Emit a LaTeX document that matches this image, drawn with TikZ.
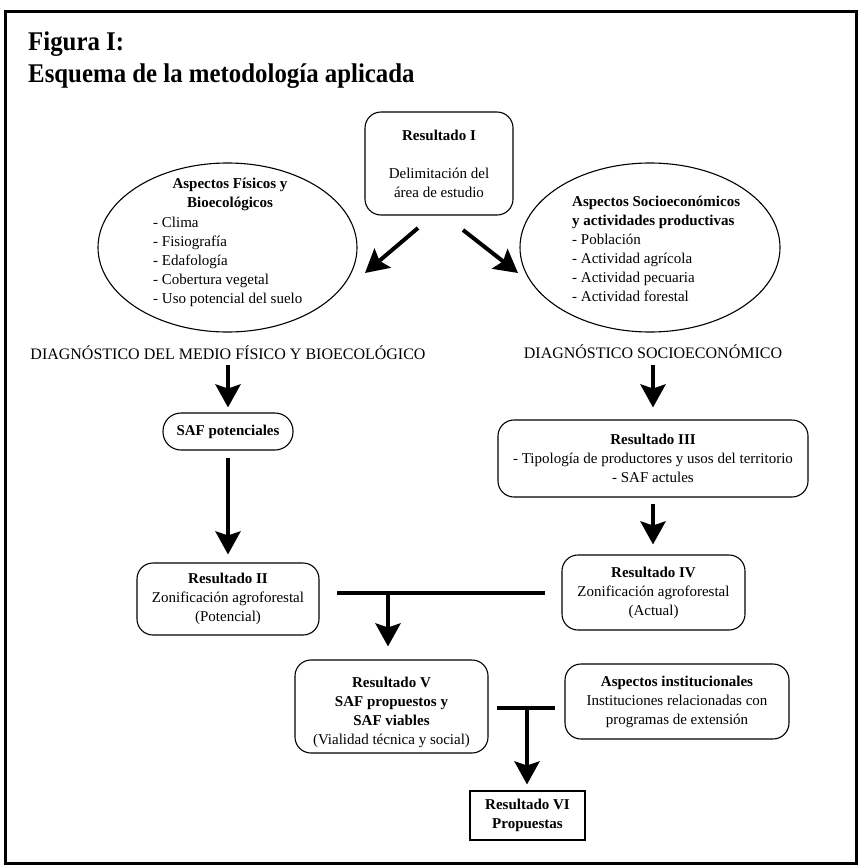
\documentclass[tikz,border=0pt]{standalone}
\usepackage{fontspec}
\setmainfont{Liberation Serif}
\newfontfamily\titlefont{Liberation Serif}[FakeStretch=0.92]
\usetikzlibrary{arrows.meta,shapes.geometric,calc}
\begin{document}
\begin{tikzpicture}[x=1pt,y=1pt,
  body/.style={font=\fontsize{15}{19}\selectfont, align=center, inner sep=0pt},
  bodyb/.style={font=\bfseries\fontsize{15}{19}\selectfont, align=center, inner sep=0pt},
  rbox/.style={draw, line width=1.1pt, rounded corners=16pt, inner sep=0pt, body},
  oval/.style={draw, ellipse, line width=1.1pt, inner sep=0pt},
  arr/.style={line width=4pt, -{Stealth[length=23pt,width=25pt,inset=4pt]}},
  bar/.style={line width=4pt},
  diag/.style={font=\fontsize{16}{19}\selectfont, inner sep=0pt},
  ttl/.style={font=\titlefont\bfseries\fontsize{27}{32}\selectfont, anchor=base west, inner sep=0pt},
]
\useasboundingbox (0,0) rectangle (859,-865);
\draw[line width=3pt] (5.5,-11) rectangle (856.5,-863);

% title
\node[ttl] (t1) at (28,-50) {Figura I:};
\node[ttl] (t2) at (28,-82) {Esquema de la metodología aplicada};

% Resultado I
\node[rbox, minimum width=148pt, minimum height=103pt] (r1) at (439,-163.5)
  {\textbf{Resultado I}\\[19pt]Delimitación del\\área de estudio};

% left ellipse
\node[oval, minimum width=259pt, minimum height=169pt] (e1) at (227.5,-247.5) {};
\node[bodyb] (e1h) at (230,-194.5) {Aspectos Físicos y\\Bioecológicos};
\node[body, align=left, anchor=west] (e1l) at (153,-262)
  {- Clima\\- Fisiografía\\- Edafología\\- Cobertura vegetal\\- Uso potencial del suelo};

% right ellipse
\node[oval, minimum width=260pt, minimum height=169pt] (e2) at (650,-247.5) {};
\node[body, align=left, anchor=west] (e2t) at (572,-248.5)
  {\textbf{Aspectos Socioeconómicos}\\\textbf{y actividades productivas}\\- Población\\- Actividad agrícola\\- Actividad pecuaria\\- Actividad forestal};

% diagnostics
\node[diag] (d1) at (228,-353) {DIAGNÓSTICO DEL MEDIO FÍSICO Y BIOECOLÓGICO};
\node[diag] (d2) at (653,-352) {DIAGNÓSTICO SOCIOECONÓMICO};

% left column
\node[draw, line width=1.1pt, rounded corners=18pt, minimum width=130pt, minimum height=37pt, bodyb] (saf) at (228,-431.5) {SAF potenciales};
\node[rbox, minimum width=182pt, minimum height=72pt] (r2) at (228,-599)
  {\textbf{Resultado II}\\Zonificación agroforestal\\(Potencial)};

% right column
\node[rbox, minimum width=310pt, minimum height=77pt] (r3) at (653,-458.5)
  {\textbf{Resultado III}\\- Tipología de productores y usos del territorio\\- SAF actules};
\node[rbox, minimum width=183pt, minimum height=75pt] (r4) at (653.5,-592.5)
  {\textbf{Resultado IV}\\Zonificación agroforestal\\(Actual)};

% bottom
\node[rbox, minimum width=193pt, minimum height=93pt] (r5) at (391.5,-706.5) {};
\node[body] (r5t) at (391.5,-712) {\textbf{Resultado V}\\\textbf{SAF propuestos y}\\\textbf{SAF viables}\\(Vialidad técnica y social)};
\node[rbox, minimum width=224pt, minimum height=75pt] (ai) at (677,-701.5)
  {\textbf{Aspectos institucionales}\\Instituciones relacionadas con\\programas de extensión};
\node[draw, line width=1.1pt, minimum width=115pt, minimum height=49pt, bodyb] (r6) at (527.5,-815.5)
  {Resultado VI\\Propuestas};

% connectors
\coordinate (a1s) at (418,-228);
\coordinate (a1e) at (365,-273);
\coordinate (a2s) at (463,-230);
\coordinate (a2e) at (518,-273);
\draw[arr] (a1s) -- (a1e);
\draw[arr] (a2s) -- (a2e);

\coordinate (p1) at (228,-365);
\draw[arr, shorten >=5pt] (p1) -- (saf.north);
\draw[arr, shorten <=7pt, shorten >=8pt] (saf.south) -- (saf.south |- r2.north);

\coordinate (p2) at (653,-365);
\draw[arr, shorten >=12pt] (p2) -- (r3.north);
\draw[arr, shorten <=6pt, shorten >=10pt] (r3.south) -- (r3.south |- r4.north);

\coordinate (b1l) at (337,-593);
\coordinate (b1r) at (545,-593);
\coordinate (j1) at (388,-593);
\draw[bar] (b1l) -- (b1r);
\draw[arr, shorten >=13pt] (j1) -- (j1 |- r5.north);

\coordinate (b2l) at (497,-708);
\coordinate (b2r) at (555,-708);
\coordinate (j2) at (527,-708);
\draw[bar] (b2l) -- (b2r);
\draw[arr, shorten >=6pt] (j2) -- (j2 |- r6.north);
\end{tikzpicture}
\end{document}
